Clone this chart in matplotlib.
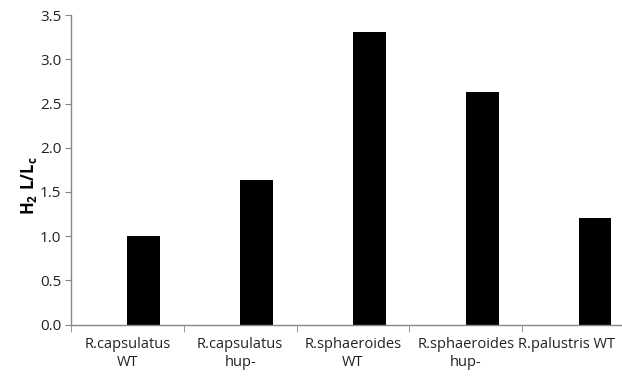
import matplotlib
matplotlib.use("Agg")
import matplotlib.pyplot as plt
import matplotlib.transforms as mtransforms
import numpy as np

categories = ["R.capsulatus\nWT", "R.capsulatus\nhup-", "R.sphaeroides\nWT",
              "R.sphaeroides\nhup-", "R.palustris WT"]
values = [1.0, 1.64, 3.31, 2.63, 1.21]
yticks = [0.0, 0.5, 1.0, 1.5, 2.0, 2.5, 3.0, 3.5]

plt.rcParams['font.family'] = ['Open Sans', 'DejaVu Sans']
plt.rcParams['mathtext.fontset'] = 'custom'
plt.rcParams['mathtext.rm'] = 'Open Sans'
plt.rcParams['mathtext.bf'] = 'Open Sans:bold'

fig = plt.figure(figsize=(6.22, 3.78), dpi=100)
ax = fig.add_axes([71/622, 1-324.5/378, (635-71)/622, (324.5-15.3)/378])

x = np.arange(len(categories))
ax.bar(x, values, width=0.29, align='edge', color='black')

ax.set_xlim(-0.5, len(categories)-0.5)
ax.set_ylim(0, 3.5)
ax.set_yticks(yticks)
ax.set_yticklabels([f"{v:.1f}" for v in yticks])

ax.set_xticks(x)
ax.set_xticklabels(categories, fontsize=10.5, color='#222222', linespacing=1.3)
ax.set_xticks(np.arange(len(categories)+1)-0.5, minor=True)
ax.tick_params(axis='x', which='major', length=0, pad=9)
ax.tick_params(axis='x', which='minor', length=5, color='#888888', direction='out')
ax.tick_params(axis='y', length=4, color='#888888', direction='out', labelsize=11,
               labelcolor='#222222', pad=3)

last = ax.get_xticklabels()[-1]
last.set_transform(last.get_transform() +
                   mtransforms.ScaledTranslation(-12/100, 0, fig.dpi_scale_trans))

for s in ['top', 'right']:
    ax.spines[s].set_visible(False)
for s in ['left', 'bottom']:
    ax.spines[s].set_color('#888888')
    ax.spines[s].set_linewidth(1.0)

ax.set_ylabel(r'$\mathbf{H_2\ L/L_c}$', fontsize=12)
ax.yaxis.set_label_coords(-(71-39)/564, 0.5 + (324.5-186 - 154.6)/309.2)

fig.savefig("out.png", dpi=100)
